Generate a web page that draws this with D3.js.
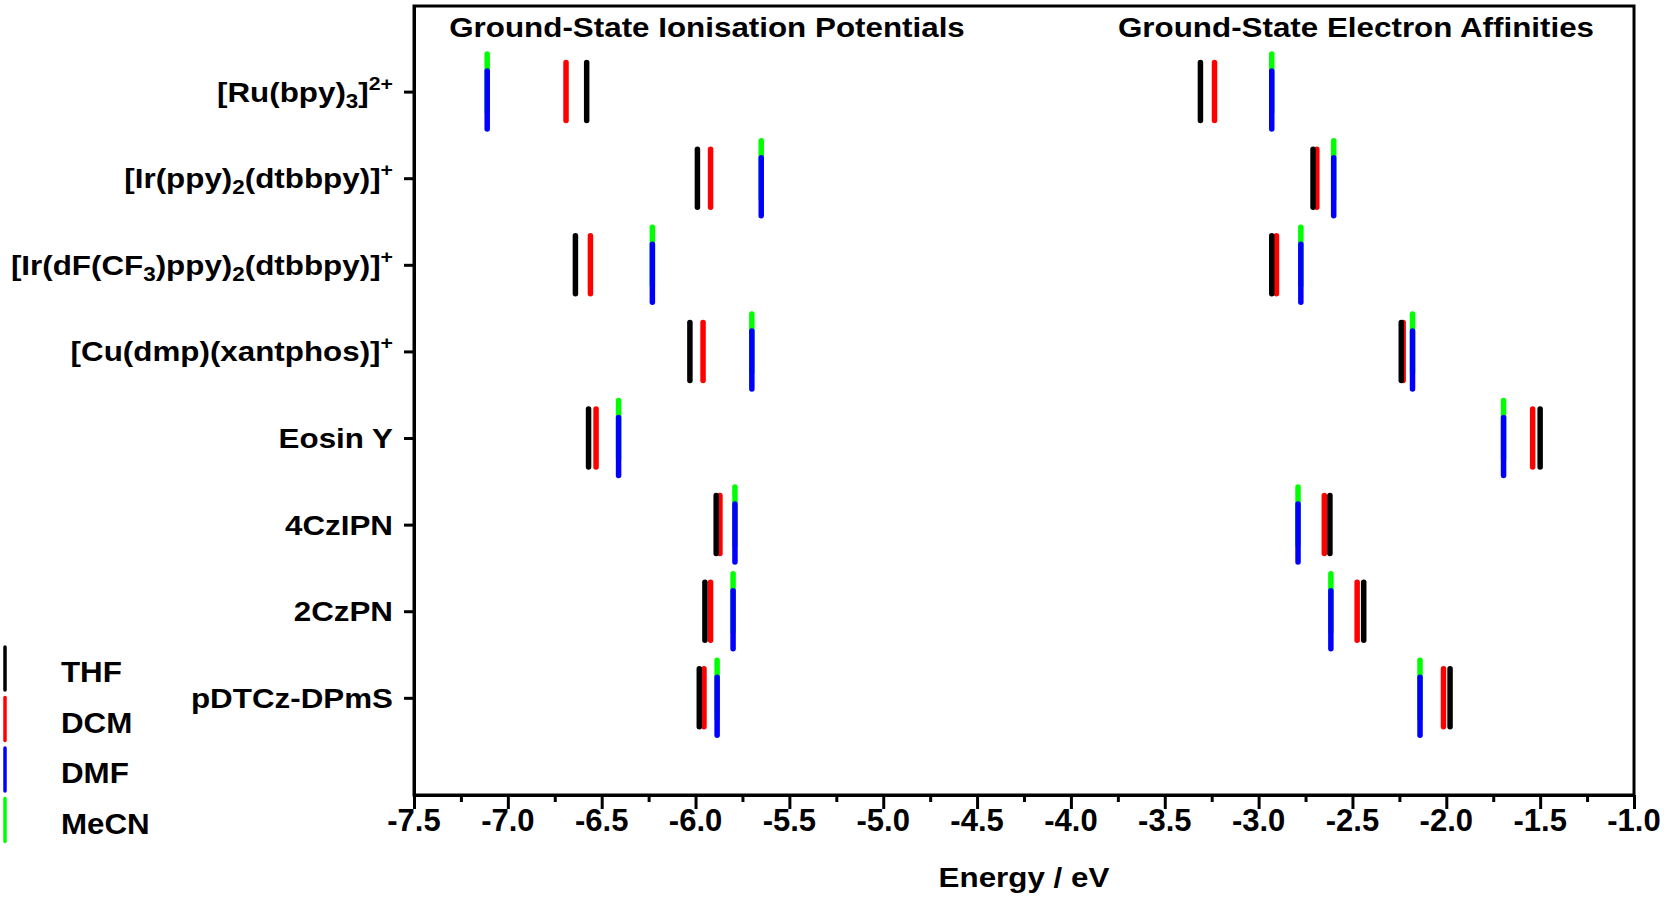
<html>
<head>
<style>
  body { margin: 0; background: #fff; }
  svg { display: block; font-family: "Liberation Sans", Arial, sans-serif; font-weight: bold; }
</style>
</head>
<body>
<script src="https://cdn.jsdelivr.net/npm/d3@7"></script>
<script>
// compounds, top to bottom; _{..} = subscript, ^{..} = superscript
var compounds = ["[Ru(bpy)_{3}]^{2+}", "[Ir(ppy)_{2}(dtbbpy)]^{+}", "[Ir(dF(CF_{3})ppy)_{2}(dtbbpy)]^{+}",
  "[Cu(dmp)(xantphos)]^{+}", "Eosin Y", "4CzIPN", "2CzPN", "pDTCz-DPmS"];
var solvents = ["THF", "DCM", "DMF", "MeCN"];
var solventColors = ["#000000", "#ff0000", "#0000ff", "#00ff00"];

// ground-state ionisation potentials (eV)
var ipTHF  = [-6.58, -5.99, -6.64, -6.03, -6.57, -5.89, -5.95, -5.98];
var ipDCM  = [-6.69, -5.92, -6.56, -5.96, -6.53, -5.87, -5.92, -5.955];
var ipDMF  = [-7.11, -5.65, -6.23, -5.70, -6.41, -5.79, -5.80, -5.885];
var ipMeCN = [-7.11, -5.65, -6.23, -5.70, -6.41, -5.79, -5.80, -5.885];
// ground-state electron affinities (eV)
var eaTHF  = [-3.31, -2.71, -2.93, -2.24, -1.50, -2.62, -2.44, -1.98];
var eaDCM  = [-3.235, -2.69, -2.905, -2.23, -1.54, -2.65, -2.475, -2.015];
var eaDMF  = [-2.93, -2.60, -2.775, -2.18, -1.695, -2.79, -2.615, -2.14];
var eaMeCN = [-2.93, -2.60, -2.775, -2.18, -1.695, -2.79, -2.615, -2.14];

var xMajor = [-7.5, -7.0, -6.5, -6.0, -5.5, -5.0, -4.5, -4.0, -3.5, -3.0, -2.5, -2.0, -1.5, -1.0];
var xMinor = [-7.25, -6.75, -6.25, -5.75, -5.25, -4.75, -4.25, -3.75, -3.25, -2.75, -2.25, -1.75, -1.25];

var width = 1664, height = 900;
var mLeft = 414, mRight = 1634, mTop = 5, mBottom = 795;

var svg = d3.select("body").append("svg")
  .attr("width", width).attr("height", height);

var xscale = d3.scaleLinear().domain([-7.5, -1.0]).range([mLeft, mRight]);
var yscale = d3.scaleLinear().domain([0, 9.122]).range([mTop, mBottom]);

// text placed at x,y, stretched horizontally by sx (the figure's lettering is wider than Arial)
function label(parent, x, y, size, anchor, str, sx) {
  return parent.append("g").attr("transform", `translate(${x},${y}) scale(${sx || 1.12},1)`)
    .append("text").attr("text-anchor", anchor).attr("font-size", size).text(str || null);
}

// frame
svg.append("rect")
  .attr("x", mLeft).attr("y", mTop + 1)
  .attr("width", mRight - mLeft).attr("height", mBottom - mTop - 1)
  .attr("fill", "none").attr("stroke", "#000").attr("stroke-width", 3);

// x axis
var xAxis = svg.append("g")
  .attr("transform", `translate(0,${mBottom})`)
  .call(d3.axisBottom(xscale).tickValues(xMajor).tickSize(14).tickSizeOuter(0).tickFormat(""));
svg.append("g")
  .attr("transform", `translate(0,${mBottom})`)
  .call(d3.axisBottom(xscale).tickValues(xMinor).tickSize(7).tickSizeOuter(0).tickFormat(""))
  .select(".domain").remove();
svg.selectAll(".tick line").attr("stroke-width", 3);
xAxis.select(".domain").attr("stroke-width", 3);
var xLabels = svg.append("g");
xMajor.forEach(function(v) {
  label(xLabels, xscale(v), 831, 31, "middle", v.toFixed(1), 1.0);
});

// y axis
var yAxis = svg.append("g")
  .attr("transform", `translate(${mLeft},0)`)
  .call(d3.axisLeft(yscale).tickValues(d3.range(1, compounds.length + 1)).tickSize(10).tickSizeOuter(0).tickFormat(""));
yAxis.select(".domain").attr("stroke-width", 3);
yAxis.selectAll(".tick line").attr("stroke-width", 3);

var yLabels = svg.append("g");
compounds.forEach(function(name, i) {
  var t = label(yLabels, mLeft - 21, yscale(i + 1) + 10, 28, "end");
  var parts = name.split(/([_^]\{[^}]*\})/).filter(s => s.length);
  var shift = 0;
  parts.forEach(function(p) {
    var s = t.append("tspan");
    var target = 0;
    if (p[0] === "_") { target = 6; s.text(p.slice(2, -1)).attr("font-size", 20); }
    else if (p[0] === "^") { target = -12; s.text(p.slice(2, -1)).attr("font-size", 19); }
    else { s.text(p); }
    if (target !== shift) s.attr("dy", target - shift);
    shift = target;
  });
});

// markers: [values, solvent index, vertical offset]
var half = 29;
var sets = [
  [ipMeCN, 3, -8.5], [ipDMF, 2, 8.5], [ipDCM, 1, 0], [ipTHF, 0, 0],
  [eaMeCN, 3, -8.5], [eaDMF, 2, 8.5], [eaDCM, 1, 0], [eaTHF, 0, 0]
];
var marks = svg.append("g");
sets.forEach(function(s) {
  marks.selectAll(null)
    .data(s[0])
    .enter()
    .append("line")
    .attr("x1", d => xscale(d)).attr("x2", d => xscale(d))
    .attr("y1", (d, i) => yscale(i + 1) + s[2] - half)
    .attr("y2", (d, i) => yscale(i + 1) + s[2] + half)
    .attr("stroke", solventColors[s[1]])
    .attr("stroke-width", 5.5)
    .attr("stroke-linecap", "round");
});

// section titles
label(svg, 707, 37, 28, "middle", "Ground-State Ionisation Potentials");
label(svg, 1356, 37, 28, "middle", "Ground-State Electron Affinities");

// axis title
label(svg, (mLeft + mRight) / 2, 887, 28, "middle", "Energy / eV");

// legend
var legend = svg.append("g");
solvents.forEach(function(name, i) {
  var y0 = 647 + i * 50.5;
  legend.append("line")
    .attr("x1", 5).attr("x2", 5).attr("y1", y0).attr("y2", y0 + 43)
    .attr("stroke", solventColors[i]).attr("stroke-width", 3.5).attr("stroke-linecap", "round");
  label(legend, 61, y0 + 35, 29, "start", name, 1.08);
});
</script>
</body>
</html>
